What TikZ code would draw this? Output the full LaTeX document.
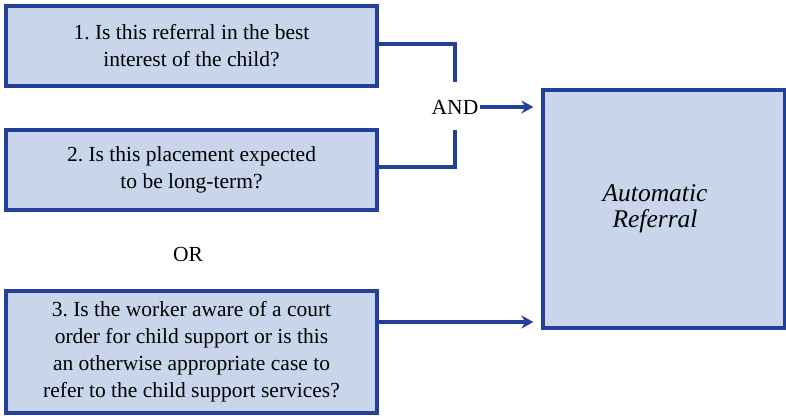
\documentclass[tikz,border=0pt]{standalone}
\usepackage{fontspec}
\setmainfont{Liberation Serif}
\usetikzlibrary{arrows.meta}
\definecolor{boxfill}{RGB}{201,213,235}
\definecolor{boxline}{RGB}{36,62,155}
\begin{document}
\frenchspacing
\begin{tikzpicture}[x=1pt,y=-1pt,
  qbox/.style={draw=boxline, fill=boxfill, line width=3.2pt, align=center, inner sep=0pt,
    font=\fontsize{21.5}{27}\selectfont},
  conn/.style={draw=boxline, line width=3.2pt},
  arr/.style={conn, -{Stealth[length=12pt,width=13pt,inset=4pt]}},
  lbl/.style={font=\fontsize{21.5}{27}\selectfont, inner sep=2pt}]
\useasboundingbox (0,0) rectangle (786,415);
\node[qbox, minimum width=371pt, minimum height=80pt] (q1) at (191.5,46) {1. Is this referral in the best\\interest of the child?};
\node[qbox, minimum width=371pt, minimum height=80pt] (q2) at (191.5,170) {2. Is this placement expected\\to be long-term?};
\node[qbox, minimum width=371pt, minimum height=122pt] (q3) at (191.5,352) {3. Is the worker aware of a court\\order for child support or is this\\an otherwise appropriate case to\\refer to the child support services?};
\node[qbox, minimum width=242pt, minimum height=238pt, text width=230pt,
  font=\fontsize{25.5}{26}\selectfont\itshape] (auto) at (664,209) {\hspace*{-18pt}Automatic\\\hspace*{-18pt}Referral};
\node[lbl] (and) at (455,107) {AND};
\node[lbl] (or) at (188,254) {OR};
\coordinate (c1) at (455,44);
\coordinate (c1e) at (455,82);
\coordinate (c2) at (455,167);
\coordinate (c2e) at (455,130);
\draw[conn] (q1.east |- c1) -- (c1) -- (c1e);
\draw[conn] (q2.east |- c2) -- (c2) -- (c2e);
\draw[arr] (and.east) -- ([xshift=-8pt]auto.west |- and.east);
\draw[arr] (q3.east |- 0,322) -- ([xshift=-8pt]auto.west |- 0,322);
\end{tikzpicture}
\end{document}
